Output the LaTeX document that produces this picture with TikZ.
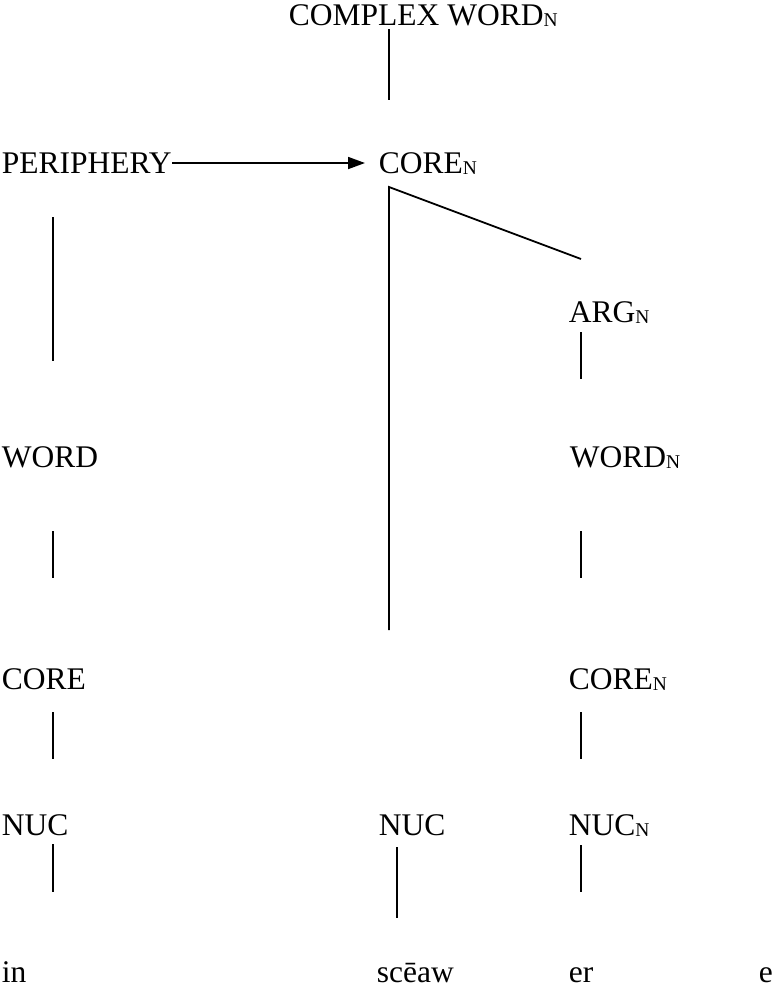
\documentclass[tikz,border=0pt]{standalone}
\usepackage{fontspec}
\setmainfont{Liberation Serif}
\usetikzlibrary{arrows.meta}
% small lowered N after a category label
\newcommand{\subN}{\raisebox{-1.5pt}{\fontsize{19.5}{20}\selectfont N}}

\begin{document}
\begin{tikzpicture}[x=1pt,y=-1pt,line width=1.8pt,
	lbl/.style={anchor=base west,inner sep=0pt,font=\fontsize{31.5}{36}\selectfont}]
	\useasboundingbox (0,0) rectangle (772,989);
	% labels, one row after the other
	\node[lbl] (cw) at (288,25) {COMPLEX WORD\subN};
	\node[lbl] (per) at (1,173) {PERIPHERY};
	\node[lbl] (coreN) at (378,173) {CORE\subN};
	\node[lbl] (arg) at (568,322) {ARG\subN};
	\node[lbl] (wordL) at (1,467) {WORD};
	\node[lbl] (wordN) at (569,467) {WORD\subN};
	\node[lbl] (coreL) at (1,689) {CORE};
	\node[lbl] (coreR) at (568,689) {CORE\subN};
	\node[lbl] (nucL) at (1,835) {NUC};
	\node[lbl] (nucM) at (378,835) {NUC};
	\node[lbl] (nucR) at (568,835) {NUC\subN};
	\node[lbl] (in) at (1,982) {in};
	\node[lbl] (sceaw) at (376,982) {scēaw};
	\node[lbl] (er) at (568,982) {er};
	\node[lbl] (e) at (758,982) {e};
	% ends of the branches
	\coordinate (cw-b) at (389,29);   \coordinate (core-t) at (389,100);
	\coordinate (per-r) at (172,163); \coordinate (core-l) at (365,163);
	\coordinate (fork) at (389,187);  \coordinate (arg-t) at (581,259);
	\coordinate (stem) at (389,630);
	\coordinate (per-b) at (52.7,217); \coordinate (wordL-t) at (52.7,361);
	\coordinate (arg-b) at (581,332);  \coordinate (wordN-t) at (581,379);
	\coordinate (wordL-b) at (52.7,531); \coordinate (coreL-t) at (52.7,578);
	\coordinate (wordN-b) at (581,531);  \coordinate (coreR-t) at (581,578);
	\coordinate (coreL-b) at (52.7,712); \coordinate (nucL-t) at (52.7,759);
	\coordinate (coreR-b) at (581,712);  \coordinate (nucR-t) at (581,759);
	\coordinate (nucL-b) at (52.7,844); \coordinate (in-t) at (52.7,892);
	\coordinate (nucM-b) at (397,847);  \coordinate (sceaw-t) at (397,918);
	\coordinate (nucR-b) at (581,845);  \coordinate (er-t) at (581,892);
	% branches
	\draw (cw-b) -- (core-t);
	\draw[-{Triangle[length=17pt,width=12pt]}] (per-r) -- (core-l);
	\draw (arg-t) -- (fork) -- (stem);
	\draw (per-b) -- (wordL-t);
	\draw (arg-b) -- (wordN-t);
	\draw (wordL-b) -- (coreL-t);
	\draw (wordN-b) -- (coreR-t);
	\draw (coreL-b) -- (nucL-t);
	\draw (coreR-b) -- (nucR-t);
	\draw (nucL-b) -- (in-t);
	\draw (nucM-b) -- (sceaw-t);
	\draw (nucR-b) -- (er-t);
\end{tikzpicture}
\end{document}
